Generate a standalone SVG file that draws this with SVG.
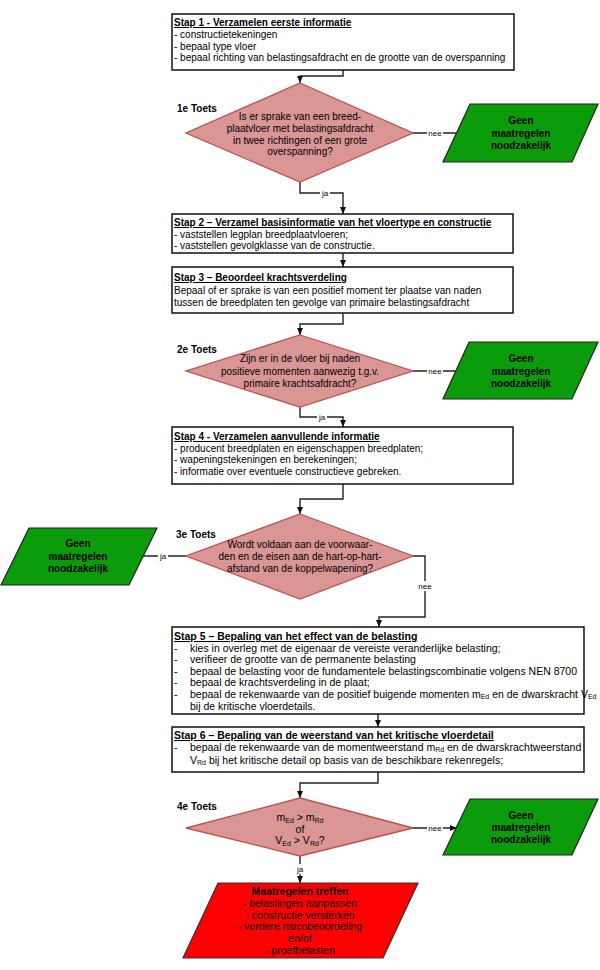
<svg xmlns="http://www.w3.org/2000/svg" width="600" height="970" viewBox="0 0 600 970">
<defs>
<marker id="ah" markerWidth="8" markerHeight="8" refX="7" refY="4" orient="auto" markerUnits="userSpaceOnUse">
<path d="M0,1 L7,4 L0,7 Z" fill="#111"/>
</marker>
<style>
text{font-family:"Liberation Sans",Arial,sans-serif;fill:#000}
.box{fill:#fff;stroke:#111;stroke-width:1.5}
.dia{fill:#d99694;stroke:#c0504d;stroke-width:1.3}
.grn{fill:#0a9c0a;stroke:#222;stroke-width:1.2}
.red{fill:#ff0000;stroke:#333;stroke-width:1.2}
.t{font-size:10px}
.tt{font-size:10px;font-weight:bold;text-decoration:underline}
.t5{font-size:10.5px}
.tt5{font-size:10.5px;font-weight:bold;text-decoration:underline}
.d{font-size:10px;text-anchor:middle}
.dr{font-size:10.5px;text-anchor:middle}
.g{font-size:10px;font-weight:bold;text-anchor:middle}
.gr{font-size:10.5px;font-weight:bold;text-anchor:middle}
.lbl{font-size:10px;font-weight:bold}
.c{fill:none;stroke:#222;stroke-width:1.4}
.cl{font-size:8px;text-anchor:middle}
.sub{font-size:7px}
</style>
</defs>

<g id="connectors">
<path class="c" d="M343,70 V76 H300 V83" marker-end="url(#ah)"/>
<path class="c" d="M413,133 H456"/>
<path class="c" d="M300,182 V193 H343 V214" marker-end="url(#ah)"/>
<path class="c" d="M343,253 V267" marker-end="url(#ah)"/>
<path class="c" d="M343,313 V324 H300 V335" marker-end="url(#ah)"/>
<path class="c" d="M413,371 H456"/>
<path class="c" d="M300,407 V417 H343 V427" marker-end="url(#ah)"/>
<path class="c" d="M343,484 V499 H300 V514" marker-end="url(#ah)"/>
<path class="c" d="M186,556 H143"/>
<path class="c" d="M413,556 H425 V617 H379 V627" marker-end="url(#ah)"/>
<path class="c" d="M378,714 V727" marker-end="url(#ah)"/>
<path class="c" d="M378,772 V783 H300 V798" marker-end="url(#ah)"/>
<path class="c" d="M413,828 H457" marker-end="url(#ah)"/>
<path class="c" d="M300,856 V883" marker-end="url(#ah)"/>
<rect x="427" y="128" width="16" height="9" fill="#fff"/>
<text class="cl" x="435" y="136">nee</text>
<rect x="320" y="188" width="10" height="10" fill="#fff"/>
<text class="cl" x="325" y="196">ja</text>
<rect x="427" y="366" width="16" height="9" fill="#fff"/>
<text class="cl" x="435" y="374">nee</text>
<rect x="317" y="412" width="10" height="10" fill="#fff"/>
<text class="cl" x="322" y="420">ja</text>
<rect x="158" y="551" width="10" height="10" fill="#fff"/>
<text class="cl" x="163" y="559">ja</text>
<rect x="417" y="581" width="16" height="10" fill="#fff"/>
<text class="cl" x="425" y="589">nee</text>
<rect x="427" y="823" width="16" height="9" fill="#fff"/>
<text class="cl" x="435" y="831">nee</text>
<rect x="295" y="864" width="10" height="10" fill="#fff"/>
<text class="cl" x="300" y="872">ja</text>
</g>

<g id="stap1">
<rect class="box" x="172" y="14" width="342" height="56"/>
<text class="tt" x="174" y="26">Stap 1 - Verzamelen eerste informatie</text>
<text class="t" x="174" y="38">- constructietekeningen</text>
<text class="t" x="174" y="49.5">- bepaal type vloer</text>
<text class="t" x="174" y="61">- bepaal richting van belastingsafdracht en de grootte van de overspanning</text>
</g>

<g id="toets1">
<text class="lbl" x="177" y="112">1e Toets</text>
<polygon class="dia" points="300,83 413,133 300,182 186,133"/>
<text class="d" x="300" y="120">Is er sprake van een breed-</text>
<text class="d" x="300" y="131.5">plaatvloer met belastingsafdracht</text>
<text class="d" x="300" y="143.5">in twee richtingen of een grote</text>
<text class="d" x="300" y="155">overspanning?</text>
</g>

<g id="geen1">
<polygon class="grn" points="470,104 598,104 572,162 443,162"/>
<text class="g" x="521" y="124">Geen</text>
<text class="g" x="521" y="136.5">maatregelen</text>
<text class="g" x="521" y="149">noodzakelijk</text>
</g>

<g id="stap2">
<rect class="box" x="172" y="214" width="341" height="39"/>
<text class="tt" x="174" y="226">Stap 2 – Verzamel basisinformatie van het vloertype en constructie</text>
<text class="t" x="174" y="238">- vaststellen legplan breedplaatvloeren;</text>
<text class="t" x="174" y="249">- vaststellen gevolgklasse van de constructie.</text>
</g>

<g id="stap3">
<rect class="box" x="172" y="267" width="341" height="46"/>
<text class="tt" x="174" y="281">Stap 3 – Beoordeel krachtsverdeling</text>
<text class="t" x="174" y="293.5">Bepaal of er sprake is van een positief moment ter plaatse van naden</text>
<text class="t" x="174" y="305.5">tussen de breedplaten ten gevolge van primaire belastingsafdracht</text>
</g>

<g id="toets2">
<text class="lbl" x="177" y="353">2e Toets</text>
<polygon class="dia" points="300,335 413,371 300,407 186,371"/>
<text class="d" x="300" y="362">Zijn er in de vloer bij naden</text>
<text class="d" x="300" y="374.5">positieve momenten aanwezig t.g.v.</text>
<text class="d" x="300" y="387">primaire krachtsafdracht?</text>
</g>

<g id="geen2">
<polygon class="grn" points="469,342 598,342 572,399 443,399"/>
<text class="g" x="521" y="362">Geen</text>
<text class="g" x="521" y="374.5">maatregelen</text>
<text class="g" x="521" y="387">noodzakelijk</text>
</g>

<g id="stap4">
<rect class="box" x="172" y="427" width="341" height="57"/>
<text class="tt" x="174" y="440">Stap 4 - Verzamelen aanvullende informatie</text>
<text class="t" x="174" y="451.5">- producent breedplaten en eigenschappen breedplaten;</text>
<text class="t" x="174" y="463">- wapeningstekeningen en berekeningen;</text>
<text class="t" x="174" y="474.5">- informatie over eventuele constructieve gebreken.</text>
</g>

<g id="toets3">
<text class="lbl" x="176" y="538">3e Toets</text>
<polygon class="dia" points="300,514 413,556 300,599 186,556"/>
<text class="d" x="300" y="548">Wordt voldaan aan de voorwaar-</text>
<text class="d" x="300" y="560">den en de eisen aan de hart-op-hart-</text>
<text class="d" x="300" y="572">afstand van de koppelwapening?</text>
</g>

<g id="geen3">
<polygon class="grn" points="29,528 157,528 129,585 1,585"/>
<text class="g" x="78" y="547">Geen</text>
<text class="g" x="78" y="560">maatregelen</text>
<text class="g" x="78" y="572">noodzakelijk</text>
</g>

<g id="stap5">
<rect class="box" x="172" y="627" width="412" height="87"/>
<text class="tt5" x="174" y="640">Stap 5 – Bepaling van het effect van de belasting</text>
<text class="t5" x="174" y="651.5">-</text>
<text class="t5" x="190" y="651.5">kies in overleg met de eigenaar de vereiste veranderlijke belasting;</text>
<text class="t5" x="174" y="663">-</text>
<text class="t5" x="190" y="663">verifieer de grootte van de permanente belasting</text>
<text class="t5" x="174" y="674.5">-</text>
<text class="t5" x="190" y="674.5">bepaal de belasting voor de fundamentele belastingscombinatie volgens NEN 8700</text>
<text class="t5" x="174" y="686">-</text>
<text class="t5" x="190" y="686">bepaal de krachtsverdeling in de plaat;</text>
<text class="t5" x="174" y="697.5">-</text>
<text class="t5" x="190" y="697.5">bepaal de rekenwaarde van de positief buigende momenten m<tspan class="sub" dy="1.5">Ed</tspan><tspan dy="-1.5"> en de dwarskracht V</tspan><tspan class="sub" dy="1.5">Ed</tspan></text>
<text class="t5" x="190" y="709.5">bij de kritische vloerdetails.</text>
</g>

<g id="stap6">
<rect class="box" x="172" y="727" width="412" height="45"/>
<text class="tt5" x="174" y="739">Stap 6 – Bepaling van de weerstand van het kritische vloerdetail</text>
<text class="t5" x="174" y="750.5">-</text>
<text class="t5" x="190" y="750.5">bepaal de rekenwaarde van de momentweerstand m<tspan class="sub" dy="1.5">Rd</tspan><tspan dy="-1.5"> en de dwarskrachtweerstand</tspan></text>
<text class="t5" x="190" y="763.5">V<tspan class="sub" dy="1.5">Rd</tspan><tspan dy="-1.5"> bij het kritische detail op basis van de beschikbare rekenregels;</tspan></text>
</g>

<g id="toets4">
<text class="lbl" x="177" y="810">4e Toets</text>
<polygon class="dia" points="300,798 413,828 300,856 186,828"/>
<text class="dr" x="300" y="821">m<tspan class="sub" dy="1.5">Ed</tspan><tspan dy="-1.5"> &gt; m</tspan><tspan class="sub" dy="1.5">Rd</tspan></text>
<text class="dr" x="300" y="832.5">of</text>
<text class="dr" x="300" y="844">V<tspan class="sub" dy="1.5">Ed</tspan><tspan dy="-1.5"> &gt; V</tspan><tspan class="sub" dy="1.5">Rd</tspan><tspan dy="-1.5">?</tspan></text>
</g>

<g id="geen4">
<polygon class="grn" points="470,799 598,799 572,855 443,855"/>
<text class="g" x="521" y="819">Geen</text>
<text class="g" x="521" y="831">maatregelen</text>
<text class="g" x="521" y="843">noodzakelijk</text>
</g>

<g id="maatregelen">
<polygon class="red" points="218,883 418,883 383,958 183,958"/>
<text class="gr" x="300" y="895">Maatregelen treffen</text>
<text class="dr" x="300" y="907">- belastingen aanpassen</text>
<text class="dr" x="300" y="918.5">- constructie versterken</text>
<text class="dr" x="300" y="930">- verdere risicobeoordeling</text>
<text class="dr" x="300" y="942">en/of</text>
<text class="dr" x="300" y="953.5">- proefbelasten</text>
</g>
</svg>
